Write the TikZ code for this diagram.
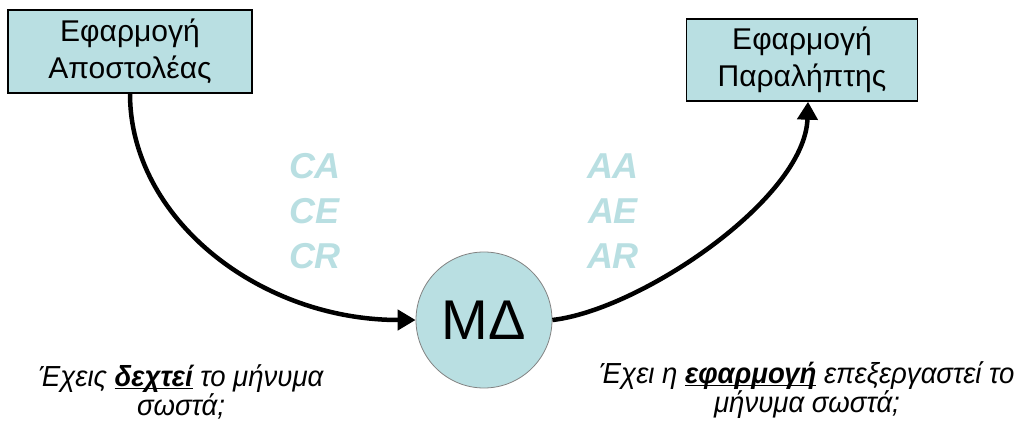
\documentclass[tikz,border=0pt]{standalone}
\usepackage{fontspec}
\setmainfont{Liberation Sans}
\newfontfamily\narrowsf[FakeStretch=0.95]{Liberation Sans}
\usetikzlibrary{arrows.meta}

\definecolor{paleteal}{RGB}{185,223,226}
\definecolor{rimgray}{RGB}{130,130,130}

% underline kept close to the baseline
\newcommand{\keyword}[1]{\underline{\smash{\textbf{#1}}}}

\tikzset{
  appbox/.style={draw=black, line width=1.4pt, fill=paleteal, align=center,
    inner sep=0pt, font=\fontsize{30}{37}\selectfont},
  flow/.style={line width=4.5pt, -{Triangle[length=18pt,width=20pt]}},
  codes/.style={text=paleteal, align=center, font=\fontsize{36}{45}\selectfont\bfseries\itshape},
  question/.style={align=center, font=\narrowsf\fontsize{29}{29}\selectfont\itshape},
}

\begin{document}
\begin{tikzpicture}[x=1pt, y=-1pt]
\useasboundingbox (0,0) rectangle (1034,423);
% Applications at both ends
\node[appbox, minimum width=244pt, minimum height=83pt] (sender) at (130,51.5) {Εφαρμογή\\Αποστολέας};
\node[appbox, minimum width=231pt, minimum height=82pt] (receiver) at (802,60) {Εφαρμογή\\Παραλήπτης};
% Message service in the middle
\node[circle, draw=rimgray, line width=0.8pt, fill=paleteal, minimum size=136pt, inner sep=0pt,
  font=\fontsize{56}{60}\selectfont] (md) at (484,320) {ΜΔ};
% Confirmations on each side
\node[codes] (cmds) at (315,211) {CA\\CE\\CR};
\node[codes] (acks) at (613,211) {AA\\AE\\AR};
% Arrows
\draw[flow] (sender.south) .. controls +(0,125) and +(-156,0) .. (md.west);
\draw[flow] (md.east) .. controls +(88,-10) and +(-3,97) .. ([xshift=6pt]receiver.south);
% Questions below
\node[question] (qleft) at (181,392) {Έχεις \keyword{δεχτεί} το μήνυμα\\σωστά;};
\node[question] (qright) at (807,390) {Έχει η \keyword{εφαρμογή} επεξεργαστεί το\\μήνυμα σωστά;};
\end{tikzpicture}
\end{document}
